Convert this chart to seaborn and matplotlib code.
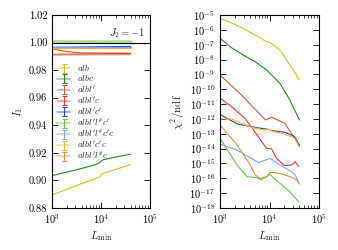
import numpy as np
import pandas as pd
import matplotlib
matplotlib.use("Agg")
import matplotlib.pyplot as plt
import seaborn as sns

# series names and colours
labels = ["alb", "albc", "albl'", "albl'c", "albl'c'",
          "albl'l''c'", "albl'l''c'c", "albl'c'c", "albl'l''c"]
colors = ["#c8c818", "#1a8a1a", "#c85a3c", "#f03030", "#2848c8",
          "#5cc840", "#7aa4f8", "#f8b030", "#c89848"]

# left panel: I_1 vs L_min
i1_x = {
    "alb": [1000, 2000, 5000, 9500, 10500, 20000, 40000],
    "albc": [1000, 3000, 7000, 9000, 11000, 20000, 40000],
    "albl'": [1000, 2000, 4000, 40000],
    "albl'c": [1000, 40000],
    "albl'c'": [1000, 40000],
    "albl'l''c'": [1000, 40000],
    "albl'l''c'c": [1000, 40000],
    "albl'c'c": [1000, 40000],
    "albl'l''c": [1000, 40000],
}
i1_y = {
    "alb": [0.8895, 0.8935, 0.899, 0.9025, 0.905, 0.908, 0.9115],
    "albc": [0.9035, 0.9075, 0.911, 0.9125, 0.915, 0.917, 0.919],
    "albl'": [0.9955, 0.9935, 0.9925, 0.9923],
    "albl'c": [0.9915, 0.9920],
    "albl'c'": [0.9966, 0.9972],
    "albl'l''c'": [1.0012, 1.0012],
    "albl'l''c'c": [0.9969, 0.9969],
    "albl'c'c": [0.9961, 0.9961],
    "albl'l''c": [0.9910, 0.9912],
}

# right panel: chi^2/ndf vs L_min
chi_x = {
    "alb": [1000, 1600, 2950, 8700, 10200, 16200, 25700, 40000],
    "albc": [1000, 1700, 2950, 5100, 8700, 16200, 25700, 40000],
    "albl'": [1000, 2700, 8300, 11000, 20400, 32000, 40000],
    "albl'c": [1000, 1700, 3200, 5000, 6900, 8700, 11000, 13800, 20000, 28000, 33000, 39000],
    "albl'c'": [1000, 1450, 2300, 4300, 6900, 9500, 10500, 20400, 32000, 40000],
    "albl'l''c'": [1000, 2200, 3500, 5500, 6900, 10200, 16200, 25700, 39000],
    "albl'l''c'c": [1000, 2200, 6000, 10200, 16200, 28000, 33000, 39000],
    "albl'c'c": [1000, 1700, 2700, 4300, 7500, 9500, 12000, 20400, 32000, 40000],
    "albl'l''c": [1000, 2200, 4100, 5100, 6500, 8700, 10200, 16200, 25700, 35500, 40000],
}
chi_y = {
    "alb": [6.0e-6, 3.2e-6, 1.26e-6, 1.6e-7, 1.4e-7, 4.4e-8, 4.3e-9, 4.2e-10],
    "albc": [2.7e-7, 6.3e-8, 2.0e-8, 7.2e-9, 2.0e-9, 2.5e-10, 1.9e-11, 8.5e-13],
    "albl'": [9.1e-10, 4.1e-11, 8.5e-13, 1.3e-12, 5.0e-13, 5.0e-14, 1.8e-14],
    "albl'c": [2.5e-11, 6.8e-12, 1.1e-12, 1.4e-13, 3.0e-14, 1.05e-14, 9.5e-15,
               2.2e-15, 7.1e-16, 7.9e-16, 1.3e-15, 6.3e-16],
    "albl'c'": [2.0e-12, 1.0e-12, 4.4e-13, 3.0e-13, 2.3e-13, 2.0e-13, 1.7e-13,
                1.26e-13, 6.5e-14, 1.6e-14],
    "albl'l''c'": [5.0e-14, 7.9e-16, 1.3e-16, 1.1e-16, 7.9e-17, 1.8e-16, 4.6e-17,
                   1.26e-17, 2.5e-18],
    "albl'l''c'c": [2.0e-14, 8.1e-15, 1.15e-15, 2.2e-15, 7.9e-16, 2.8e-16, 1.7e-16, 4.7e-17],
    "albl'c'c": [1.0e-12, 1.0e-12, 5.1e-13, 2.75e-13, 1.8e-13, 2.0e-13, 1.4e-13,
                 9.5e-14, 5.0e-14, 1.26e-14],
    "albl'l''c": [4.0e-13, 1.8e-14, 7.9e-16, 1.7e-16, 1.0e-16, 1.3e-16, 2.5e-16,
                  2.2e-16, 1.3e-16, 7.9e-17, 4.0e-17],
}


def to_frame(xs, ys):
    rows = []
    for name in labels:
        for x, y in zip(xs[name], ys[name]):
            rows.append({"L": x, "v": y, "series": name})
    return pd.DataFrame(rows)


sns.set_style("ticks")
plt.rcParams.update({
    "font.family": "cmr10",
    "mathtext.fontset": "cm",
    "axes.formatter.use_mathtext": True,
    "axes.unicode_minus": False,
    "xtick.direction": "in",
    "ytick.direction": "in",
    "xtick.top": True,
    "ytick.right": True,
    "xtick.major.size": 4,
    "ytick.major.size": 4,
    "xtick.minor.size": 2,
    "ytick.minor.size": 2,
    "xtick.major.width": 0.6,
    "ytick.major.width": 0.6,
    "xtick.minor.width": 0.5,
    "axes.linewidth": 0.8,
    "axes.edgecolor": "black",
    "xtick.color": "black",
    "ytick.color": "black",
    "xtick.labelsize": 7.5,
    "ytick.labelsize": 7.5,
})

palette = dict(zip(labels, colors))
fig = plt.figure(figsize=(3.38, 2.5), dpi=100)
ax1 = fig.add_axes([0.154, 0.168, 0.29, 0.772])
ax2 = fig.add_axes([0.651, 0.168, 0.293, 0.772])

# left panel
df1 = to_frame(i1_x, i1_y)
sns.lineplot(data=df1, x="L", y="v", hue="series", palette=palette, ax=ax1,
             estimator=None, sort=False, linewidth=0.8, legend=False)
for ln in ax1.get_lines():
    if ln.get_color() == palette["albl'l''c'"]:
        ln.set_linewidth(1.8)
        ln.set_alpha(0.6)
ax1.axhline(1.0, color="black", linewidth=0.8)
ax1.set_xscale("log")
ax1.set_xlim(1e3, 1e5)
ax1.set_ylim(0.88, 1.02)
ax1.set_yticks(np.arange(0.88, 1.021, 0.02))
ax1.set_yticklabels([f"{v:.2f}" for v in np.arange(0.88, 1.021, 0.02)])
ax1.set_xlabel(r"$L_{\min}$", fontsize=8, labelpad=2)
ax1.set_ylabel(r"$I_1$", fontsize=8, labelpad=3)
ax1.text(0.95, 0.905, r"$J_2=-1$", transform=ax1.transAxes, ha="right",
         va="center", fontsize=7.5)

# legend with errorbar-style handles
handles = []
for name, c in zip(labels, colors):
    h = ax1.errorbar([np.nan], [np.nan], yerr=[1.0], color=c, capsize=1.8,
                     elinewidth=0.8, capthick=0.8, linewidth=1.2,
                     label=f"${name}$")
    h.lines[0].set_alpha(0.5)
    handles.append(h)
ax1.legend(handles=handles, loc="upper left", bbox_to_anchor=(0.05, 0.75),
           frameon=False, fontsize=6.5, handlelength=1.5, handletextpad=0.7,
           handleheight=0.5, labelspacing=0.02, borderpad=0, borderaxespad=0)

# right panel
df2 = to_frame(chi_x, chi_y)
sns.lineplot(data=df2, x="L", y="v", hue="series", palette=palette, ax=ax2,
             estimator=None, sort=False, linewidth=0.8, legend=False)
ax2.set_xscale("log")
ax2.set_yscale("log")
ax2.set_xlim(1e3, 1e5)
ax2.set_ylim(1e-18, 1e-5)
ax2.set_yticks([10.0 ** k for k in range(-18, -4)])
ax2.yaxis.set_minor_locator(matplotlib.ticker.NullLocator())
ax2.set_xlabel(r"$L_{\min}$", fontsize=8, labelpad=2)
ax2.set_ylabel(r"$\chi^2/\mathrm{ndf}$", fontsize=8, labelpad=2)

for ax in (ax1, ax2):
    ax.set_xticks([1e3, 1e4, 1e5])
    ax.tick_params(axis="x", pad=3)

fig.savefig("out.png", dpi=100)
